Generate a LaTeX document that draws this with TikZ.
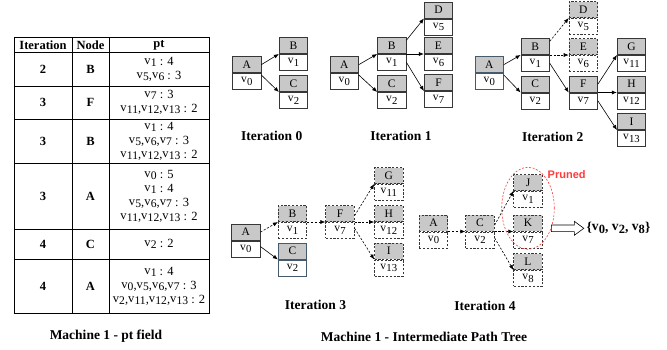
\documentclass[tikz,border=0pt]{standalone}
\usepackage{fontspec}
\setmainfont{Liberation Serif}
\newfontfamily\prunedfont{Liberation Sans}
\usetikzlibrary{arrows.meta,shapes.geometric,calc}

\definecolor{boxgray}{RGB}{200,200,200}
\definecolor{edgegray}{RGB}{55,55,55}
\definecolor{edgeblue}{RGB}{70,90,110}
\definecolor{prunered}{RGB}{255,60,60}

% v with index: small raised v, index lowered
\newcommand\vx[1]{\raisebox{1.1pt}{v}\kern0.2pt\raisebox{-1.3pt}{\scalebox{0.93}{#1}}}

\tikzset{
  topbox/.style={draw=edgegray, fill=boxgray, minimum width=28.5pt, minimum height=16pt,
    inner sep=0pt, line width=0.7pt, font=\fontsize{11.5}{11.5}\selectfont},
  botbox/.style={draw=edgegray, fill=white, minimum width=28.5pt, minimum height=16pt,
    inner sep=0pt, line width=0.7pt, font=\fontsize{11.5}{11.5}\selectfont},
  ghost/.style={dash pattern=on 2.2pt off 1.6pt},
  bluish/.style={draw=edgeblue},
  arr/.style={-{Latex[length=5pt,width=4pt]}, line width=0.6pt, black},
  darr/.style={arr, dash pattern=on 2.2pt off 1.6pt},
  captxt/.style={font=\fontsize{13.5}{13.5}\selectfont\bfseries},
  celltxt/.style={font=\fontsize{12.5}{14}\selectfont, align=center, inner sep=0pt},
  headtxt/.style={font=\fontsize{12.5}{13}\selectfont\bfseries, inner sep=0pt},
}

% #1 name, #2 midline centre, #3 letter, #4 index, #5 extra style
\newcommand\pbox[5]{%
  \node[topbox,#5,anchor=south] (#1) at (#2) {#3};
  \node[botbox,#5,anchor=north] (#1v) at (#2) {\vx{#4}};
}

\begin{document}
\begin{tikzpicture}[x=1pt,y=-1pt]
\useasboundingbox (0,0) rectangle (667,349);

% ---------------- table ----------------
\draw[line width=0.8pt] (14,37) rectangle (209,313);
\foreach \yy in {52,86,119,163,229,259} \draw[line width=0.8pt] (14,\yy) -- (209,\yy);
\draw[line width=0.8pt] (72,37) -- (72,313);
\draw[line width=0.8pt] (109,37) -- (109,313);

\node[headtxt] (h1) at (43,45) {Iteration};
\node[headtxt] (h2) at (90.5,45) {Node};
\node[headtxt] (h3) at (159,45) {pt};

\node[headtxt] (r1a) at (43,69) {2};
\node[headtxt] (r1b) at (90.5,69) {B};
\node[celltxt] (r1c) at (159,69) {\vx{1} : 4\\\vx{5},\vx{6} : 3};

\node[headtxt] (r2a) at (43,102.5) {3};
\node[headtxt] (r2b) at (90.5,102.5) {F};
\node[celltxt] (r2c) at (159,102.5) {\vx{7} : 3\\\vx{11},\vx{12},\vx{13} : 2};

\node[headtxt] (r3a) at (43,141) {3};
\node[headtxt] (r3b) at (90.5,141) {B};
\node[celltxt] (r3c) at (159,141) {\vx{1} : 4\\\vx{5},\vx{6},\vx{7} : 3\\\vx{11},\vx{12},\vx{13} : 2};

\node[headtxt] (r4a) at (43,196) {3};
\node[headtxt] (r4b) at (90.5,196) {A};
\node[celltxt] (r4c) at (159,196) {\vx{0} : 5\\\vx{1} : 4\\\vx{5},\vx{6},\vx{7} : 3\\\vx{11},\vx{12},\vx{13} : 2};

\node[headtxt] (r5a) at (43,244) {4};
\node[headtxt] (r5b) at (90.5,244) {C};
\node[celltxt] (r5c) at (159,244) {\vx{2} : 2};

\node[headtxt] (r6a) at (43,286) {4};
\node[headtxt] (r6b) at (90.5,286) {A};
\node[celltxt] (r6c) at (159,286) {\vx{1} : 4\\\vx{0},\vx{5},\vx{6},\vx{7} : 3\\\vx{2},\vx{11},\vx{12},\vx{13} : 2};

\node[captxt] (capL) at (106,336) {Machine 1 - pt field};

% ---------------- Iteration 0 ----------------
\pbox{a0}{246.7,73}{A}{0}{}
\pbox{b0}{293.5,54}{B}{1}{}
\pbox{c0}{293.5,92}{C}{2}{}
\draw[arr] (a0.east) -- (b0.south west);
\draw[arr] ($(a0.south east)+(0,2)$) -- (c0.south west);
\node[captxt] (cap0) at (271.7,136) {Iteration 0};

% ---------------- Iteration 1 ----------------
\pbox{a1}{344.2,73}{A}{0}{}
\pbox{b1}{391.8,54}{B}{1}{}
\pbox{c1}{391.8,92}{C}{2}{}
\pbox{d1}{438.5,18.5}{D}{5}{}
\pbox{e1}{438.5,54}{E}{6}{}
\pbox{f1}{438.5,91}{F}{7}{}
\draw[arr] (a1.east) -- (b1.south west);
\draw[arr] ($(a1.south east)+(0,2)$) -- (c1.south west);
\draw[arr] ($(b1.north east)+(0,3)$) -- (d1.south west);
\draw[arr] (b1.south east) -- (e1.south west);
\draw[arr] (b1v.east) -- (f1.south west);
\node[captxt] (cap1) at (401,136) {Iteration 1};

% ---------------- Iteration 2 ----------------
\pbox{a2}{489.2,73}{A}{0}{bluish}
\pbox{b2}{535.2,55}{B}{1}{}
\pbox{c2}{535.2,92.5}{C}{2}{}
\pbox{d2}{583.3,18}{D}{5}{ghost}
\pbox{e2}{583.3,55}{E}{6}{ghost}
\pbox{f2}{583.3,92.5}{F}{7}{}
\pbox{g2}{631.5,55}{G}{11}{}
\pbox{h2}{631.5,92.5}{H}{12}{}
\pbox{i2}{631.5,130}{I}{13}{}
\draw[arr] (a2.east) -- (b2.south west);
\draw[arr] ($(a2.south east)+(0,2)$) -- (c2.south west);
\draw[darr] ($(b2.north east)+(0,3)$) -- (d2.south west);
\draw[darr] (b2.south east) -- (e2.south west);
\draw[arr] (b2v.east) -- (f2.south west);
\draw[arr] (f2.east) -- (g2.south west);
\draw[arr] (f2.south east) -- (h2.south west);
\draw[arr] (f2v.east) -- (i2.south west);
\node[captxt] (cap2) at (552.7,137) {Iteration 2};

% ---------------- Iteration 3 ----------------
\pbox{a3}{245.8,240.5}{A}{0}{}
\pbox{b3}{292.5,222}{B}{1}{ghost}
\pbox{c3}{292.5,259.5}{C}{2}{bluish}
\pbox{f3}{340,222}{F}{7}{ghost}
\pbox{g3}{388.8,184}{G}{11}{ghost}
\pbox{h3}{388.8,222}{H}{12}{ghost}
\pbox{i3}{388.8,259.5}{I}{13}{ghost}
\draw[darr] (a3.east) -- (b3.south west);
\draw[arr] ($(a3.south east)+(0,6)$) -- (c3.south west);
\draw[darr] (b3.south east) -- (f3.south west);
\draw[darr] ($(f3.east)+(0,2)$) -- (g3.south west);
\draw[darr] (f3.south east) -- (h3.south west);
\draw[darr] ($(f3v.east)+(0,-2)$) -- (i3.south west);
\node[captxt] (cap3) at (315.5,305) {Iteration 3};

% ---------------- Iteration 4 ----------------
\pbox{a4}{433.5,231.5}{A}{0}{ghost}
\pbox{c4}{480,231.5}{C}{2}{ghost}
\pbox{j4}{528,191}{J}{1}{ghost}
\pbox{k4}{528,231.5}{K}{7}{ghost}
\pbox{l4}{528,270}{L}{8}{ghost}
\draw[darr] (a4.south east) -- (c4.south west);
\draw[darr] ($(c4.east)+(0,2)$) -- (j4.south west);
\draw[darr] (c4.south east) -- (k4.south west);
\draw[darr] ($(c4v.east)+(0,-2)$) -- (l4.south west);
\node[captxt] (cap4) at (485,306) {Iteration 4};

\node[draw=prunered, ellipse, dash pattern=on 2pt off 1.6pt, line width=0.6pt,
      minimum width=52.6pt, minimum height=82pt, inner sep=0pt] (prune) at (528,208.3) {};
\node[anchor=west, text=prunered, font=\prunedfont\fontsize{11}{11}\selectfont\bfseries, inner sep=0pt]
      (prunetxt) at (547.5,174.5) {Pruned};
\coordinate (resstart) at ($(prune.east)+(-3.3,20)$);
\draw[line width=0.6pt, fill=white] (resstart) ++(0,-3.3) -- ++(23,0) -- ++(0,-3.7)
      -- ++(9.5,7) coordinate (restip) -- ++(-9.5,7) -- ++(0,-3.7) -- ++(-23,0) -- cycle;
\node[anchor=west, inner sep=0pt, font=\fontsize{13.5}{13.5}\selectfont\bfseries]
      (result) at ($(restip)+(2.5,0)$) {\{\vx{0}, \vx{2}, \vx{8}\}};

\node[captxt] (capR) at (424,337) {Machine 1 - Intermediate Path Tree};
\end{tikzpicture}
\end{document}
